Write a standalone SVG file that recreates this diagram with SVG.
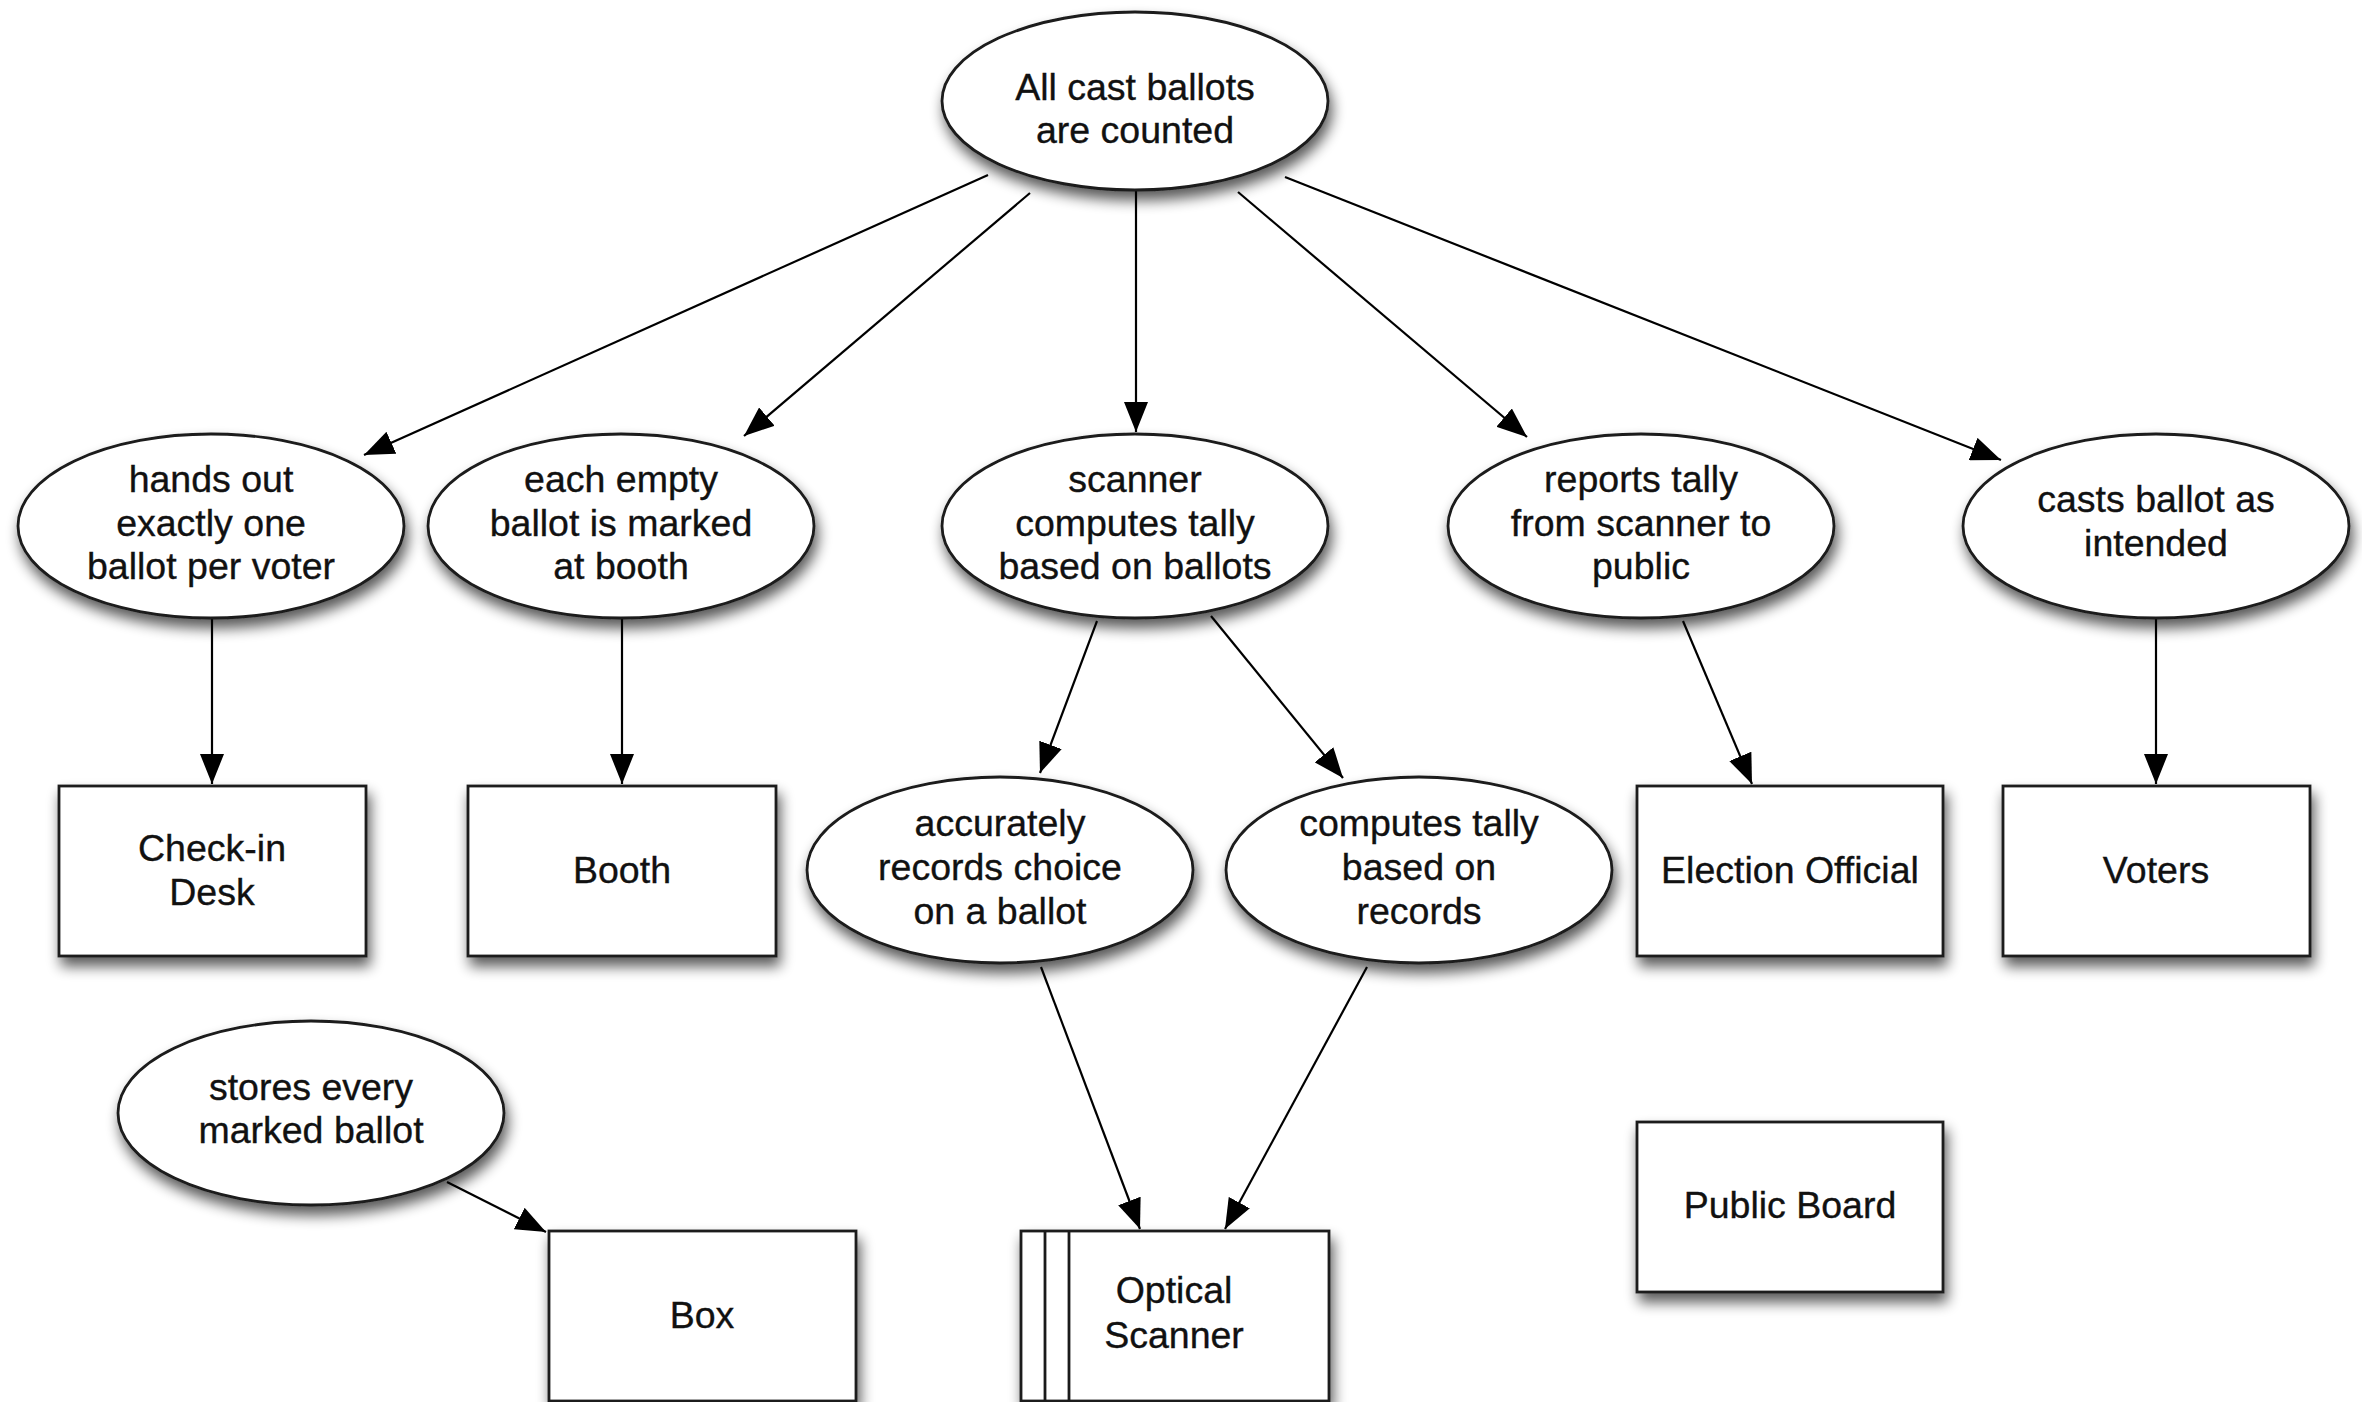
<svg xmlns="http://www.w3.org/2000/svg" width="2362" height="1402" viewBox="0 0 2362 1402">
<defs>
<filter id="sh" x="-20%" y="-20%" width="150%" height="160%">
<feGaussianBlur in="SourceAlpha" stdDeviation="7"/>
<feOffset dx="3" dy="9" result="b"/>
<feComponentTransfer><feFuncA type="linear" slope="0.65"/></feComponentTransfer>
<feMerge><feMergeNode/><feMergeNode in="SourceGraphic"/></feMerge>
</filter>
<marker id="ah" markerUnits="userSpaceOnUse" markerWidth="30" markerHeight="24" refX="30" refY="12" orient="auto">
<path d="M0,0 L30,12 L0,24 z" fill="#000"/>
</marker>
</defs>
<style>
.n{fill:#fff;stroke:#1a1a1a;stroke-width:2.8}
.t{font-family:"Liberation Sans",Arial,Helvetica,sans-serif;font-size:37.5px;fill:#111;stroke:#111;stroke-width:0.35;text-anchor:middle}
.c{stroke:#000;stroke-width:2.2;fill:none;marker-end:url(#ah)}
</style>
<rect width="2362" height="1402" fill="#fff"/>
<g id="connectors">
<line class="c" x1="988" y1="175" x2="364" y2="455"/>
<line class="c" x1="1030" y1="193" x2="744" y2="436"/>
<line class="c" x1="1136" y1="191" x2="1136" y2="432"/>
<line class="c" x1="1238" y1="192" x2="1527" y2="437"/>
<line class="c" x1="1285" y1="177" x2="2001" y2="460"/>
<line class="c" x1="212" y1="619" x2="212" y2="784"/>
<line class="c" x1="622" y1="619" x2="622" y2="784"/>
<line class="c" x1="1097" y1="621" x2="1040" y2="773"/>
<line class="c" x1="1211" y1="616" x2="1343" y2="778"/>
<line class="c" x1="1683" y1="621" x2="1752" y2="784"/>
<line class="c" x1="2156" y1="619" x2="2156" y2="784"/>
<line class="c" x1="1041" y1="967" x2="1140" y2="1229"/>
<line class="c" x1="1367" y1="967" x2="1225" y2="1229"/>
<line class="c" x1="447" y1="1182" x2="546" y2="1232"/>
</g>
<g id="all-counted">
<ellipse class="n" cx="1135" cy="101" rx="193" ry="89" filter="url(#sh)"/>
<text class="t" x="1135" y="100">All cast ballots</text>
<text class="t" x="1135" y="143">are counted</text>
</g>
<g id="hands-out">
<ellipse class="n" cx="211" cy="526" rx="193" ry="92" filter="url(#sh)"/>
<text class="t" x="211" y="492">hands out</text>
<text class="t" x="211" y="536">exactly one</text>
<text class="t" x="211" y="579">ballot per voter</text>
</g>
<g id="each-empty">
<ellipse class="n" cx="621" cy="526" rx="193" ry="92" filter="url(#sh)"/>
<text class="t" x="621" y="492">each empty</text>
<text class="t" x="621" y="536">ballot is marked</text>
<text class="t" x="621" y="579">at booth</text>
</g>
<g id="scanner-computes">
<ellipse class="n" cx="1135" cy="526" rx="193" ry="92" filter="url(#sh)"/>
<text class="t" x="1135" y="492">scanner</text>
<text class="t" x="1135" y="536">computes tally</text>
<text class="t" x="1135" y="579">based on ballots</text>
</g>
<g id="reports-tally">
<ellipse class="n" cx="1641" cy="526" rx="193" ry="92" filter="url(#sh)"/>
<text class="t" x="1641" y="492">reports tally</text>
<text class="t" x="1641" y="536">from scanner to</text>
<text class="t" x="1641" y="579">public</text>
</g>
<g id="casts-ballot">
<ellipse class="n" cx="2156" cy="526" rx="193" ry="92" filter="url(#sh)"/>
<text class="t" x="2156" y="512">casts ballot as</text>
<text class="t" x="2156" y="556">intended</text>
</g>
<g id="check-in-desk">
<rect class="n" x="59" y="786" width="307" height="170" filter="url(#sh)"/>
<text class="t" x="212" y="861">Check-in</text>
<text class="t" x="212" y="905">Desk</text>
</g>
<g id="booth">
<rect class="n" x="468" y="786" width="308" height="170" filter="url(#sh)"/>
<text class="t" x="622" y="883">Booth</text>
</g>
<g id="accurately-records">
<ellipse class="n" cx="1000" cy="870" rx="193" ry="93" filter="url(#sh)"/>
<text class="t" x="1000" y="836">accurately</text>
<text class="t" x="1000" y="880">records choice</text>
<text class="t" x="1000" y="924">on a ballot</text>
</g>
<g id="computes-records">
<ellipse class="n" cx="1419" cy="870" rx="193" ry="93" filter="url(#sh)"/>
<text class="t" x="1419" y="836">computes tally</text>
<text class="t" x="1419" y="880">based on</text>
<text class="t" x="1419" y="924">records</text>
</g>
<g id="election-official">
<rect class="n" x="1637" y="786" width="306" height="170" filter="url(#sh)"/>
<text class="t" x="1790" y="883">Election Official</text>
</g>
<g id="voters">
<rect class="n" x="2003" y="786" width="307" height="170" filter="url(#sh)"/>
<text class="t" x="2156" y="883">Voters</text>
</g>
<g id="stores-ballot">
<ellipse class="n" cx="311" cy="1113" rx="193" ry="92" filter="url(#sh)"/>
<text class="t" x="311" y="1100">stores every</text>
<text class="t" x="311" y="1143">marked ballot</text>
</g>
<g id="box">
<rect class="n" x="549" y="1231" width="307" height="170" filter="url(#sh)"/>
<text class="t" x="702" y="1328">Box</text>
</g>
<g id="optical-scanner">
<rect class="n" x="1021" y="1231" width="308" height="170" filter="url(#sh)"/>
<line x1="1045" y1="1231" x2="1045" y2="1401" stroke="#1a1a1a" stroke-width="2.8"/>
<line x1="1069" y1="1231" x2="1069" y2="1401" stroke="#1a1a1a" stroke-width="2.8"/>
<text class="t" x="1174" y="1303">Optical</text>
<text class="t" x="1174" y="1348">Scanner</text>
</g>
<g id="public-board">
<rect class="n" x="1637" y="1122" width="306" height="170" filter="url(#sh)"/>
<text class="t" x="1790" y="1218">Public Board</text>
</g>
</svg>
